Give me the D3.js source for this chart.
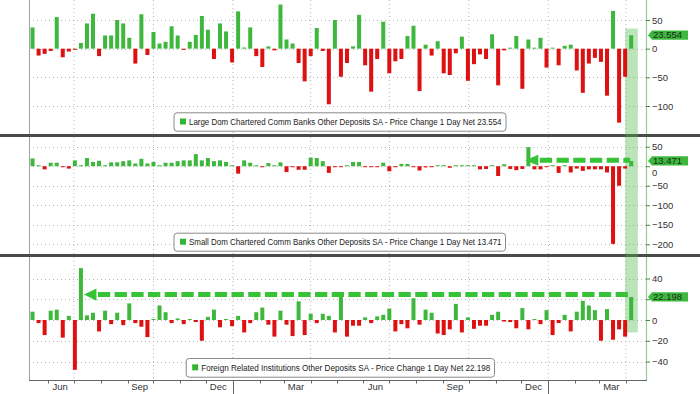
<!DOCTYPE html>
<html><head><meta charset="utf-8">
<script src="https://cdn.jsdelivr.net/npm/d3@7"></script>
<style>
html,body{margin:0;padding:0;background:#fff;}
svg{display:block;font-family:"Liberation Sans",Arial,sans-serif;}
</style></head>
<body>
<svg id="chart" width="700" height="394"></svg>
<script>
// ---------------- DATA ----------------
const firstDate = "2021-05-14";   // weekly observations (Fridays)
const lastDate  = "2023-04-07";

const largeBanks = [37,-12,-9,-4,55,-15,-5,-2,10,44,
  61,-13,23,23,50,44,19,-26,60,-11,
  29,9,12,39,23,-2,12,24,57,33,
  -18,44,30,-24,65,2,37,-13,-32,4,
  -3,77,16,9,-25,-57,-13,36,-4,-97,
  50,-49,-25,4,59,-29,-75,-18,47,-43,
  -22,-18,22,40,-74,7,-12,13,-43,-46,
  -8,21,-56,-27,-10,-18,25,-64,-3,0.5,
  22,-70,16,0.5,19,-33,0.5,-29,5,7,
  -38,-77,-26,-16,-23,-82,66,-129,-49,23.554];

const smallBanks = [20,2,-8,9,9,-1,-6,15,2,21,
  11,14,1,10,10,13,15,7,19,7,
  11,1,9,9,13,15,15,31,15,21,
  13,15,11,1,-19,15,9,1,-1,8,
  1,10,-15,-1,-9,-9,22,21,13,-17,
  -1,-1,0.5,11,11,-2,-2,-1,9,-13,
  -1,6,6,-2,-11,-3,-2,0.5,0.5,-4,
  0.5,0.5,0.5,0.5,-8,-7,0.5,-25,5,-7,
  -10,-7,49,-8,-8,-2,0.5,-17,0.5,-16,
  -6,-12,-8,-8,-8,-16,-199,-50,-6,13.471];

const foreignInst = [8,-3,-14.5,9,10,-17,4,-48,50,4.5,
  7,-11,9,-4,7,-5,16,-3,-6.5,-16.5,
  1,14,7.5,-3,1.5,-4,0.3,-2,-20,3,
  10,-7,0.3,-6,4,-12,-3,7.5,12,-4.5,
  -16,9,-4.5,-15.5,18,-14.5,6,-3,6,4,
  -12,23,-16,-5.5,-5.5,2.5,-3,3.5,5,11,
  -11,-4,-8,21,-4.5,10,7,-13,-14.5,-9,
  15.5,-12,2.5,-8.5,-5.5,-5.5,5,8,-1.5,-2,
  -8,11.5,-9,0.3,-4,9.5,-14.5,-3,5,-11,
  8,18.5,14,9.5,-20,10.5,-19,-9,-16,22.198];

const seriesNames = [
  "Large Dom Chartered Comm Banks Other Deposits SA - Price Change 1 Day Net 23.554",
  "Small Dom Chartered Comm Banks Other Deposits SA - Price Change 1 Day Net 13.471",
  "Foreign Related Institutions Other Deposits SA - Price Change 1 Day Net 22.198"];
const lastValueLabels = ["23.554","13.471","22.198"];

const yTicks1 = [50,0,-50,-100];
const yTicks2 = [50,0,-50,-100,-150,-200];
const yTicks3 = [40,20,0,-20,-40];
// tick labels hidden behind the last-value box in the reference
const hiddenTickLabels = [[], [], [20]];

const quarterDates = ["2021-07-01","2021-10-01","2022-01-01","2022-04-01","2022-07-01","2022-10-01","2023-01-01","2023-04-01"];
const monthLabelDates = ["2021-06-15","2021-09-15","2021-12-15","2022-03-15","2022-06-15","2022-09-15","2022-12-15","2023-03-15"];
const monthLabels = ["Jun","Sep","Dec","Mar","Jun","Sep","Dec","Mar"];
const yearLabels = ["2021","2022","2023"];

// arrow annotations: level and the date the arrow points back to
const arrowLevels = [null, 15.5, 24.5];
const arrowTargets = [null, "2022-12-02", "2021-07-09"];

// ---------------- LAYOUT ----------------
const parse = d3.timeParse("%Y-%m-%d");
const dates = d3.timeFriday.range(parse(firstDate), d3.timeDay.offset(parse(lastDate),1));

const svg = d3.select("#chart");
const W = 700, H = 394;
const plotL = 29, plotR = 646;
const green = "#3db83d", red = "#dd1111";

const x = d3.scaleTime()
  .domain([parse("2021-07-01"), parse("2023-04-01")])
  .range([74, 626]);

const panels = [
  {top:0,   bottom:134, y:d3.scaleLinear().domain([-100,50]).range([106,20]), ticks:yTicks1, data:largeBanks,
   legend:{x:173.5,y:112.3,w:332,h:18.4, textW:312.5}},
  {top:137, bottom:254, y:d3.scaleLinear().domain([-200,50]).range([244.3,146.7]), ticks:yTicks2, data:smallBanks,
   legend:{x:173.5,y:232.7,w:331.5,h:18, textW:312.5}},
  {top:257, bottom:380.7, y:d3.scaleLinear().domain([-40,40]).range([361.5,278.5]), ticks:yTicks3, data:foreignInst,
   legend:{x:185.7,y:358,w:308.3,h:18.7, textW:289}}
];

svg.append("rect").attr("width",W).attr("height",H).attr("fill","#fff");

// gridlines
panels.forEach(p=>{
  const g = svg.append("g");
  g.selectAll("line.v").data(quarterDates).enter().append("line")
    .attr("x1",d=>x(parse(d))).attr("x2",d=>x(parse(d)))
    .attr("y1",p.top).attr("y2",p.bottom)
    .attr("stroke","#b5b5b5").attr("stroke-width",1).attr("stroke-dasharray","1,3");
  g.selectAll("line.h").data(p.ticks).enter().append("line")
    .attr("x1",plotL).attr("x2",plotR)
    .attr("y1",d=>Math.round(p.y(d))+0.5).attr("y2",d=>Math.round(p.y(d))+0.5)
    .attr("stroke","#b5b5b5").attr("stroke-width",1).attr("stroke-dasharray","1,3");
  g.append("line").attr("x1",plotL+0.5).attr("x2",plotL+0.5).attr("y1",p.top).attr("y2",p.bottom)
    .attr("stroke","#a0a0a0").attr("stroke-width",1);
});

// panel separators
[135.5, 255.5].forEach(yy=>{
  svg.append("line").attr("x1",0).attr("x2",W).attr("y1",yy).attr("y2",yy)
    .attr("stroke","#4a4a4a").attr("stroke-width",3);
});

// highlight band on latest observation
const lastX = x(dates[dates.length-1]);
svg.append("rect")
  .attr("x", lastX-6).attr("width", 12.6)
  .attr("y", panels[0].y(35)).attr("height", panels[2].y(-12) - panels[0].y(35))
  .attr("fill", "#4cb84c").attr("opacity", 0.38);

// bars
const bw = 4;
panels.forEach(p=>{
  const z = p.y(0);
  svg.append("g").selectAll("rect").data(p.data).enter().append("rect")
    .attr("x",(d,i)=>x(dates[i]) - bw/2)
    .attr("width",bw)
    .attr("y",d=> d>=0 ? Math.min(p.y(d), z-1) : z)
    .attr("height",d=> Math.max(1, Math.abs(p.y(d)-z)))
    .attr("fill",d=> d>=0 ? green : red);
});

// dashed arrows
[1,2].forEach(k=>{
  const p = panels[k];
  const yy = p.y(arrowLevels[k]);
  const tip = x(parse(arrowTargets[k])) + 3;
  const hw = k===2 ? 12.5 : 13, hh = k===2 ? 6.2 : 5.5;
  const g = svg.append("g");
  g.append("line").attr("x1",tip+hw+1.5).attr("x2",lastX-1).attr("y1",yy).attr("y2",yy)
    .attr("stroke","#36c436").attr("stroke-width",5).attr("stroke-dasharray","12.3,4.4");
  g.append("path")
    .attr("d",`M${tip},${yy} L${tip+hw},${yy-hh} L${tip+hw},${yy+hh} Z`)
    .attr("fill","#36c436");
});

// right axes
panels.forEach((p,k)=>{
  const g = svg.append("g");
  g.append("line").attr("x1",plotR+0.5).attr("x2",plotR+0.5).attr("y1",p.top).attr("y2",p.bottom)
    .attr("stroke","#96cc96").attr("stroke-width",1.2);
  const ax = d3.axisRight(p.y).tickValues(p.ticks).tickSize(4).tickPadding(2)
    .tickFormat(d => hiddenTickLabels[k].includes(d) ? "" : d3.format("d")(d));
  const ga = g.append("g").attr("transform",`translate(${plotR},0)`).call(ax);
  ga.select(".domain").remove();
  ga.selectAll(".tick line").attr("stroke","#3f8f3f");
  ga.selectAll(".tick text").attr("fill","#333").attr("font-size","9.5px")
    .attr("font-family","Liberation Sans, Arial, sans-serif");
  // in the middle panel the zero label peeks out just below the value box
  if (k===1) ga.selectAll(".tick text").filter(d=>d===0).attr("dy","0.95em");
});

// last value boxes
panels.forEach((p,k)=>{
  const v = p.data[p.data.length-1];
  const cy = p.y(v);
  const x0 = 648, x1 = 688, h = 4.6;
  svg.append("path")
    .attr("d",`M${x0},${cy} L${x0+4},${cy-h} L${x1},${cy-h} L${x1},${cy+h} L${x0+4},${cy+h} Z`)
    .attr("fill","#3cb83c");
  svg.append("text").attr("x",653).attr("y",cy+3.3)
    .attr("font-size","9.5px").attr("fill","#1d2a1d").text(lastValueLabels[k]);
});

// legends
panels.forEach((p,k)=>{
  const L = p.legend;
  svg.append("rect").attr("x",L.x+0.5).attr("y",L.y+0.5).attr("width",L.w).attr("height",L.h)
    .attr("rx",3).attr("fill","#fff").attr("stroke","#8a8a8a").attr("stroke-width",1);
  svg.append("rect").attr("x",L.x+6.5).attr("y",L.y+L.h/2-3).attr("width",6).attr("height",6).attr("fill","#33b533");
  svg.append("text").attr("x",L.x+15.5).attr("y",L.y+L.h/2+3.4)
    .attr("font-size","9.6px").attr("fill","#222")
    .attr("textLength",L.textW).attr("lengthAdjust","spacingAndGlyphs")
    .text(seriesNames[k]);
});

// x axis
const gx = svg.append("g");
gx.append("line").attr("x1",plotL).attr("x2",plotR+1).attr("y1",380.5).attr("y2",380.5)
  .attr("stroke","#666").attr("stroke-width",1);
const months = d3.timeMonth.range(parse("2021-06-01"), parse("2023-04-02"));
gx.selectAll("line.mt").data(months).enter().append("line")
  .attr("x1",d=>Math.round(x(d))+0.5).attr("x2",d=>Math.round(x(d))+0.5)
  .attr("y1",380.5).attr("y2",d=> d.getMonth()===0 ? H : 383.5)
  .attr("stroke","#666").attr("stroke-width",1);
gx.selectAll("text.ml").data(monthLabels).enter().append("text")
  .attr("x",(d,i)=>x(parse(monthLabelDates[i])))
  .attr("y",389.5).attr("text-anchor","middle")
  .attr("font-size","9.5px").attr("fill","#333").text(d=>d);
const yearPos = [
  (plotL + x(parse("2022-01-01")))/2,
  x(parse("2022-07-02")),
  (x(parse("2023-01-01")) + 640)/2];
gx.selectAll("text.yl").data(yearLabels).enter().append("text")
  .attr("x",(d,i)=>yearPos[i]).attr("y",399.5).attr("text-anchor","middle")
  .attr("font-size","9.5px").attr("fill","#333").text(d=>d);
</script>
</body></html>
